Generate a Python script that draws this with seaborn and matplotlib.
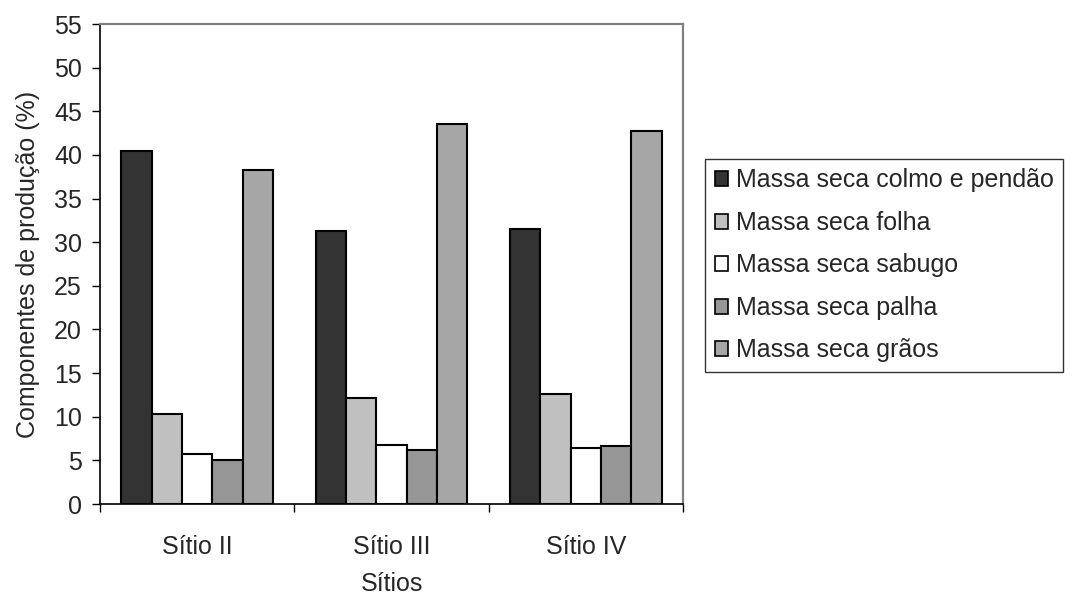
import matplotlib
matplotlib.use("Agg")
import matplotlib.pyplot as plt
from matplotlib.ticker import FixedLocator
import seaborn as sns
import pandas as pd

sns.set_style("white")
plt.rcParams["font.family"] = ["Liberation Sans", "DejaVu Sans"]

# Sites (categories) and dry-mass components (series), in %
sites = ["Sítio II", "Sítio III", "Sítio IV"]
components = [
    "Massa seca colmo e pendão",
    "Massa seca folha",
    "Massa seca sabugo",
    "Massa seca palha",
    "Massa seca grãos",
]
colmo_pendao = [40.5, 31.3, 31.5]
folha = [10.3, 12.1, 12.6]
sabugo = [5.7, 6.8, 6.4]
palha = [5.0, 6.2, 6.6]
graos = [38.3, 43.5, 42.7]

colors = ["#333333", "#c0c0c0", "#ffffff", "#969696", "#a6a6a6"]
y_ticks = list(range(0, 56, 5))

FS = 18

series = [colmo_pendao, folha, sabugo, palha, graos]
rows = []
for comp, vals in zip(components, series):
    for site, v in zip(sites, vals):
        rows.append({"Sítio": site, "Componente": comp, "Valor": v})
df = pd.DataFrame(rows)

fig = plt.figure(figsize=(10.78, 5.98), dpi=100)
ax = fig.add_axes([100 / 1078, 94 / 598, 583 / 1078, 480 / 598])

sns.barplot(
    data=df, x="Sítio", y="Valor", hue="Componente",
    order=sites, hue_order=components, palette=colors,
    width=0.78, edgecolor="black", linewidth=1.5,
    saturation=1, ax=ax, legend=True,
)

ax.set_ylim(0, 55)
ax.set_xlim(-0.5, len(sites) - 0.5)
ax.set_yticks(y_ticks)
ax.tick_params(axis="y", which="major", direction="out", length=6,
               width=1, color="black", labelsize=FS, left=True, pad=7)
ax.tick_params(axis="x", which="major", length=0, labelsize=FS, pad=22)
ax.xaxis.set_minor_locator(FixedLocator([-0.5, 0.5, 1.5, 2.5]))
ax.tick_params(axis="x", which="minor", direction="out", length=6,
               width=1, color="black", bottom=True)

ax.set_xlabel("Sítios", fontsize=FS, labelpad=10)
ax.set_ylabel("Componentes de produção (%)", fontsize=FS, labelpad=10)

for side in ["left", "bottom"]:
    ax.spines[side].set_color("black")
    ax.spines[side].set_linewidth(1.2)
for side in ["top", "right"]:
    ax.spines[side].set_visible(True)
    ax.spines[side].set_color("#808080")
    ax.spines[side].set_linewidth(1.6)

handles, labels = ax.get_legend_handles_labels()
ax.get_legend().remove()
leg = fig.legend(
    handles, labels, loc="upper left",
    bbox_to_anchor=(705 / 1078, 1 - 159 / 598),
    bbox_transform=fig.transFigure,
    fontsize=FS, frameon=True, fancybox=False, shadow=False,
    handlelength=0.55, handleheight=0.55, handletextpad=0.3,
    labelspacing=0.74, borderpad=0.38, borderaxespad=0,
)
leg.get_frame().set_edgecolor("black")
leg.get_frame().set_linewidth(1.0)
for h in leg.legend_handles:
    h.set_edgecolor("black")
    h.set_linewidth(1.2)

fig.savefig("out.png", dpi=100)
